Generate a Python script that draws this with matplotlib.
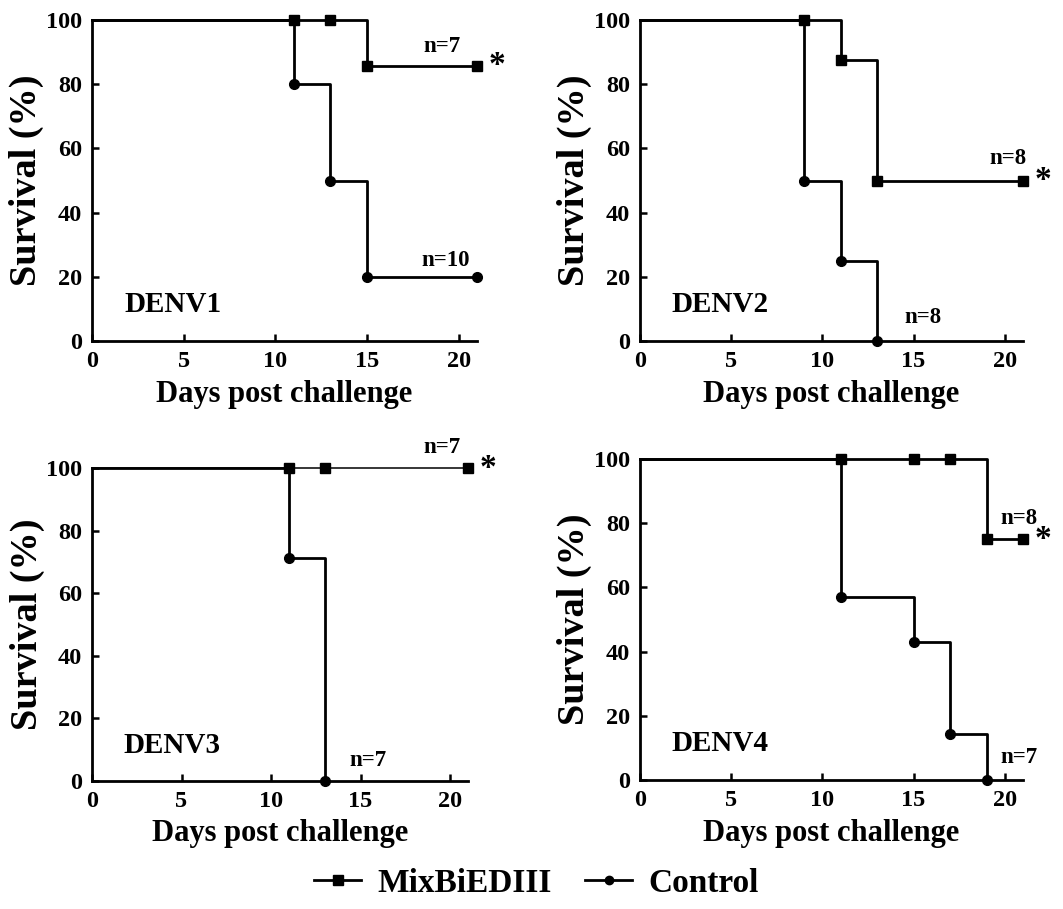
import matplotlib
matplotlib.use("Agg")
import matplotlib.pyplot as plt
from matplotlib.lines import Line2D

plt.rcParams['font.family'] = ['Liberation Serif', 'DejaVu Serif']
plt.rcParams['font.weight'] = 'bold'

# ---- data ----
panel_names = ["DENV1", "DENV2", "DENV3", "DENV4"]

mix_days = [[0, 11, 13, 15, 21], [0, 9, 11, 13, 21], [0, 11, 13, 21], [0, 11, 15, 17, 19, 21]]
mix_surv = [[100, 100, 100, 85.7, 85.7], [100, 100, 87.5, 50, 50], [100, 100, 100, 100],
            [100, 100, 100, 100, 75, 75]]
ctl_days = [[0, 11, 13, 15, 21], [0, 9, 11, 13], [0, 11, 13], [0, 11, 15, 17, 19]]
ctl_surv = [[100, 80, 50, 20, 20], [100, 50, 25, 0], [100, 71.4, 0], [100, 57.1, 42.9, 14.3, 0]]

n_mix = ["n=7", "n=8", "n=7", "n=8"]
n_ctl = ["n=10", "n=8", "n=7", "n=7"]
n_mix_pos = [(19.1, 91.6), (20.2, 57), (19.55, 106.4), (20.8, 81.6)]
n_ctl_pos = [(19.3, 25.2), (15.5, 7.2), (15.4, 6.7), (20.8, 6.9)]
star_y = [85.7, 50, 100, 75]

x_ticks = [0, 5, 10, 15, 20]
y_ticks = [0, 20, 40, 60, 80, 100]
series_names = ["MixBiEDIII", "Control"]

# ---- layout ----
W, H = 1063, 909
fig = plt.figure(figsize=(W / 100, H / 100), dpi=100)

def frac(l, r, t, b):
    return [l / W, 1 - b / H, (r - l) / W, (b - t) / H]

rects = [frac(92, 477, 20, 341), frac(640, 1023, 20, 341),
         frac(92, 468, 468, 781), frac(640, 1023, 459, 780)]

LW = 2.0
for i, rect in enumerate(rects):
    ax = fig.add_axes(rect)
    ax.set_xlim(0, 21)
    ax.set_ylim(0, 100)
    for s in ['top', 'right']:
        ax.spines[s].set_visible(False)
    for s in ['left', 'bottom']:
        ax.spines[s].set_linewidth(LW)
    ax.set_xticks(x_ticks)
    ax.set_yticks(y_ticks)
    ax.tick_params(direction='in', length=5, width=1.8, labelsize=17.5, pad=7)
    for lab in ax.get_xticklabels() + ax.get_yticklabels():
        lab.set_fontweight('bold')

    mlw = 1.1 if i == 2 else LW
    ax.step(mix_days[i], mix_surv[i], where='post', color='black', lw=mlw, clip_on=False, zorder=3)
    ax.plot(mix_days[i][1:], mix_surv[i][1:], 's', color='black', ms=7.5, clip_on=False, zorder=4)
    ax.step(ctl_days[i], ctl_surv[i], where='post', color='black', lw=LW, clip_on=False, zorder=3)
    ax.plot(ctl_days[i][1:], ctl_surv[i][1:], 'o', color='black', ms=7, clip_on=False, zorder=4)

    ax.text(1.75, 11.5, panel_names[i], fontsize=21, fontweight='bold', va='center', ha='left')
    ax.text(*n_mix_pos[i], n_mix[i], fontsize=16.5, fontweight='bold', ha='center', va='center', clip_on=False)
    ax.text(*n_ctl_pos[i], n_ctl[i], fontsize=16.5, fontweight='bold', ha='center', va='center', clip_on=False)
    ax.text(22.1, star_y[i], '*', fontsize=24, fontweight='bold', ha='center', va='center', clip_on=False)

    ax.set_ylabel("Survival (%)", fontsize=27.5, fontweight='bold')
    ax.yaxis.set_label_coords(-0.125, 0.5)
    ax.set_xlabel("Days post challenge", fontsize=22, fontweight='bold')
    ax.xaxis.set_label_coords(0.5, -0.12)

handles = [Line2D([], [], color='black', lw=LW, marker='s', ms=6.5),
           Line2D([], [], color='black', lw=LW, marker='o', ms=6)]
fig.legend(handles, series_names, loc='center', bbox_to_anchor=(0.505, 1 - 883 / H), ncol=2,
           frameon=False, prop={'size': 24, 'weight': 'bold'}, handlelength=1.4,
           handletextpad=0.5, columnspacing=1.0)

fig.savefig("out.png", dpi=100)
